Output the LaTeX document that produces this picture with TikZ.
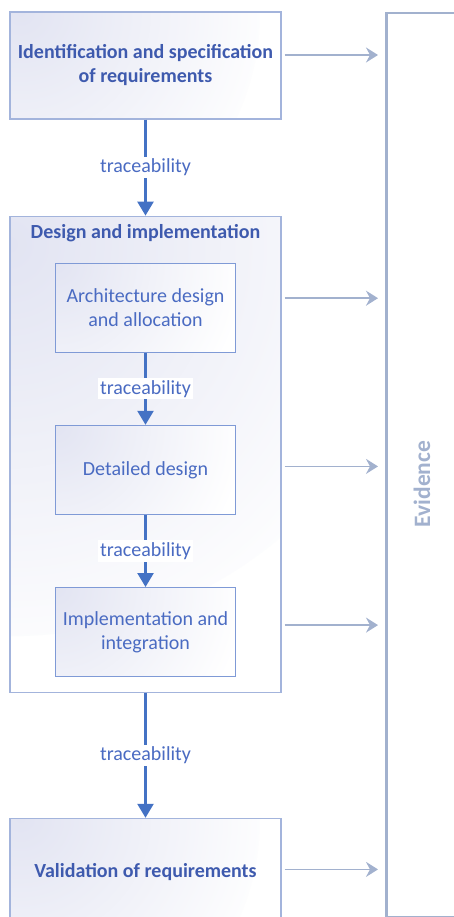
\documentclass[tikz,border=0pt]{standalone}
\usepackage{fontspec}
\setmainfont{Carlito}
\usetikzlibrary{arrows.meta,positioning}

\definecolor{traceblue}{HTML}{4472C4}
\definecolor{frameblue}{HTML}{A3B4DC}
\definecolor{innerblue}{HTML}{7F9AD6}
\definecolor{textblue}{HTML}{4A6BC2}
\definecolor{titleblue}{HTML}{3E5AAE}
\definecolor{evidgray}{HTML}{A2B1CE}
\definecolor{lavender}{HTML}{E2E4F2}

\def\outerw{271pt}
\def\innerw{180pt}

\tikzset{corner shade/.style={fill=white,path picture={
    \shade[inner color=lavender,outer color=white] (path picture bounding box.north west) circle (#1);}}}

\begin{document}
\begin{tikzpicture}[x=1pt,y=-1pt,font=\fontsize{20}{24}\selectfont]
    \tikzstyle{stage}=[rectangle,draw=frameblue,line width=1.2pt,minimum width=\outerw,minimum height=107pt,inner sep=0pt,
        corner shade=250pt,text=titleblue,font=\fontsize{20}{24}\selectfont\bfseries,align=center]
    \tikzstyle{substage}=[stage,draw=innerblue,minimum width=\innerw,minimum height=89pt,corner shade=190pt,text=textblue,font=\fontsize{20}{24}\selectfont]
    \tikzstyle{trace}=[-{Triangle[width=16pt,length=14pt]},draw=traceblue,line width=2.5pt]
    \tikzstyle{tracelabel}=[fill=white,text=textblue,inner sep=2pt]
    \tikzstyle{evi}=[-{Stealth[width=15pt,length=12pt,inset=4pt]},draw=evidgray,line width=1.8pt,shorten <=3pt,shorten >=7pt]

    \useasboundingbox (0,0) rectangle (454,917);

    % left column
    \node[stage] (req) at (145.5,65.5) {Identification and specification\\of requirements};
    \node[stage,minimum height=476pt,below=96pt of req,corner shade=420pt] (design) {};
    \node[text=titleblue,font=\fontsize{20}{24}\selectfont\bfseries] (designtitle) at (145.5,233) {Design and implementation};
    \node[substage,below=47pt of design.north] (arch) {Architecture design\\and allocation};
    \node[substage,below=72pt of arch] (detail) {Detailed design};
    \node[substage,below=72pt of detail] (impl) {Implementation and\\integration};
    \node[stage,below=125pt of design] (valid) {Validation of requirements};

    % evidence column
    \node[rectangle,draw=evidgray,line width=2.5pt,minimum width=74pt,minimum height=904pt,anchor=north west] (evidence) at (385,12) {};
    \node[rotate=90,text=evidgray,font=\fontsize{23.5}{28}\selectfont\bfseries] (evidlabel) at (422,484) {Evidence};

    \draw[trace] (req) -- node[tracelabel] {traceability} (design);
    \draw[trace] (arch) -- node[tracelabel] {traceability} (detail);
    \draw[trace] (detail) -- node[tracelabel] {traceability} (impl);
    \draw[trace] (design) -- node[tracelabel] {traceability} (valid);

    \draw[evi] ([yshift=10.5pt]req.east) -- ([yshift=10.5pt]req.east -| evidence.west);
    \draw[evi] ([yshift=9.5pt]arch.east -| design.east) -- ([yshift=9.5pt]arch.east -| evidence.west);
    \draw[evi] ([yshift=3.5pt]detail.east -| design.east) -- ([yshift=3.5pt]detail.east -| evidence.west);
    \draw[evi] ([yshift=7pt]impl.east -| design.east) -- ([yshift=7pt]impl.east -| evidence.west);
    \draw[evi] ([yshift=2.5pt]valid.east) -- ([yshift=2.5pt]valid.east -| evidence.west);
\end{tikzpicture}
\end{document}
